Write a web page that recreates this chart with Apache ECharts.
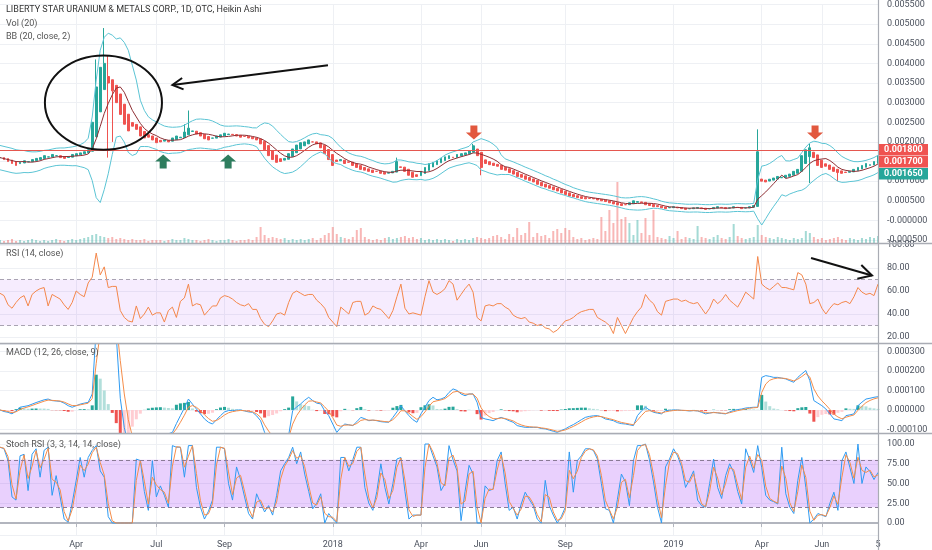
<!DOCTYPE html>
<html><head><meta charset="utf-8">
<script src="https://cdn.jsdelivr.net/npm/echarts@6/dist/echarts.min.js"></script>
<style>html,body{margin:0;padding:0;background:#fff}#c{width:932px;height:550px}</style>
</head><body><div id="c"></div>
<script>
// Heikin Ashi close, units of 0.00001 (one point per ~3 trading days)
const closeE5 = [
160,155,150,145,140,148,152,150,155,158,
160,165,162,168,165,160,158,162,168,170,
172,175,180,
250,340,390,400,350,330,300,270,245,228,240,232,215,210,
212,205,198,200,205,200,210,215,212,
225,235,228,
220,215,208,205,210,215,218,222,220,218,215,212,214,210,208,205,
195,180,165,155,148,150,158,
170,182,192,
198,200,205,200,195,
185,170,155,140,
150,155,145,148,140,135,
130,128,125,122,125,120,118,122,125,
150,
135,125,115,110,112,
125,135,145,148,152,
158,162,165,160,168,170,172,178,
190,
165,135,
145,142,140,138,
130,128,122,118,112,110,105,102,
98,92,88,85,82,78,75,
70,66,62,60,58,56,55,56,
55,52,50,48,45,42,40,38,40,45,50,48,
45,40,38,35,35,
32,30,33,35,32,30,28,30,32,33,30,28,30,33,35,32,30,32,35,33,30,32,35,38,
175,
100,98,105,108,112,110,115,118,
125,130,
165,
180,185,
160,
140,135,138,130,
125,122,120,122,125,
130,135,140,145,142,
150,165];
// notable wick extremes (index : price in 0.00001)
const highE5 = {24:410,26:490,27:420,46:245,47:280,99:160,118:195,189:232,202:195};
const lowE5 = {27:160,28:200,120:115,202:95,209:100};
// Bollinger half-width (2 sigma), units of 0.00001
const bbHalfE5 = [
31,31,31,31,30,29,28,27,26,25, 24,23,22,22,22,22,22,23,24,25, 28,32,40,81,150,194,194,179,152,125,
125,127,130,115,94,59,46,38,36,35, 35,34,34,33,33,33,33,34,36,37, 37,37,37,36,34,30,27,26,25,24,
23,22,22,22,24,35,45,50,52,50, 48,45,40,38,36,34,32,30,28,26, 22,24,28,30,26,22,21,20,20,20,
20,20,20,20,19,19,20,22,25,28, 26,24,22,22,21,20,20,20,20,20, 20,20,19,19,19,20,20,21,28,32,
40,40,40,38,35,25,20,18,18,18, 18,18,18,18,18,18,17,17,16,16, 15,14,14,13,13,13,13,13,13,13,
13,13,13,13,13,13,14,15,16,17, 17,16,14,12,11,10,10,10,10,10, 10,10,10,10,10,10,10,10,10,10,
10,10,10,10,10,10,10,10,10,50, 75,68,62,58,55,50,45,42,42,42, 48,52,52,50,45,40,38,38,38,36,
33,30,27,25,24,23,22,22,22,22];
// volume (relative units)
const volume = [
3,2,3,4,2,3,2,3,4,3, 2,3,2,3,4,3,2,3,4,3, 4,5,6,8,9,7,6,5,6,4, 5,4,3,4,3,3,4,2,3,3,
3,2,3,4,3,3,5,4,3,3, 2,3,4,3,2,3,3,4,3,2, 3,3,4,3,6,16,8,5,6,5, 4,5,3,4,3,4,3,4,5,3,
5,8,10,16,9,6,5,4,6,13, 15,6,4,3,4,3,5,6,4,5, 6,7,5,6,4,5,3,4,3,4, 3,4,3,2,4,3,4,3,5,6,
5,4,5,7,8,6,4,9,6,15, 8,10,21,6,10,7,8,5,12,14, 10,15,13,6,4,5,3,4,5,4, 26,12,33,20,61,24,26,20,8,23,
10,25,8,33,6,5,4,7,5,12, 4,6,5,4,17,6,5,4,6,8, 5,4,6,19,7,5,4,5,6,18, 8,6,5,4,6,5,4,3,5,4,
5,12,10,6,4,5,3,4,5,6, 4,3,5,4,3,5,4,6,5,7];
const rsi = [
58,56,48,45,50,54,56,47,57,60, 62,63,47,57,55,53,48,44,50,60, 57,55,67,72,93,74,81,63,64,64,
43,37,34,33,47,36,40,46,39,41, 41,33,43,46,37,51,54,66,47,49, 48,39,43,47,47,54,56,55,53,50,
48,47,49,44,44,36,31,29,34,40, 41,39,50,58,60,58,56,57,57,52, 49,45,37,33,29,46,43,40,50,51,
51,39,41,47,45,44,40,36,43,55, 66,45,40,41,40,39,55,69,59,57, 59,62,69,66,52,57,62,66,59,37,
34,47,48,47,49,49,46,44,39,37, 36,37,33,32,30,31,28,27,24,26, 30,34,35,37,40,42,43,44,44,37,
35,33,30,23,37,30,23,30,37,42, 46,57,52,49,42,39,51,52,53,53, 51,52,50,49,50,45,40,45,53,49,
52,57,52,49,46,52,59,56,53,90, 66,63,61,64,67,63,63,62,61,76, 74,66,49,50,53,45,40,45,49,48,
50,51,49,55,63,59,57,58,56,66];
// MACD line, units of 0.000001
const macdE6 = [
0,-8,-12,-20,-5,14,18,22,30,38, 45,52,56,48,46,44,35,22,14,22, 30,35,39,82,420,560,600,560,500,380,
60,-90,-180,-220,-230,-220,-200,-185,-170,-155, -140,-130,-122,-115,-70,-29,10,56,30,5,
-20,-46,-63,-72,-50,-29,-10,-3,-3,-1, 0,-5,-10,-12,-30,-55,-115,-140,-160,-170,
-165,-150,-130,-3,15,31,50,65,48,35, 31,-5,-29,-72,-115,-90,-72,-76,-80,-60,
-38,-45,-55,-52,-55,-60,-62,-63,-38,-10, 22,-5,-29,-50,-63,-20,14,48,65,52,
56,65,90,108,100,82,73,82,82,39, -38,-46,-50,-55,-45,-38,-46,-55,-63,-80,
-85,-89,-89,-89,-89,-95,-97,-103,-109,-115, -105,-97,-85,-75,-63,-50,-38,-33,-30,-29,
-35,-46,-50,-55,-65,-70,-72,-76,-80,-29, -5,14,0,-12,-16,-20,-3,-2,0,0,
-2,-3,-5,-3,-5,-12,-20,-16,-12,-15, -18,-20,-10,-3,2,5,10,12,14,14,
167,176,172,167,167,163,159,150,142,167, 185,202,150,48,35,22,5,-20,-46,-50,
-55,-29,-25,-20,22,40,56,60,65,68];
const stochK = [
96,94,79,33,29,85,87,41,87,94, 58,92,96,35,60,33,5,1,25,54, 83,58,83,92,98,66,58,8,0,0,
0,0,0,0,81,79,40,16,79,33, 47,35,20,98,96,96,58,98,98,45, 20,5,15,29,96,96,94,50,29,71,
55,33,12,5,37,25,14,22,10,35, 66,75,83,96,75,90,62,40,18,25, 37,0,12,5,0,83,83,66,80,96,
96,45,25,16,40,75,45,24,50,81, 83,40,5,10,10,10,100,100,85,71, 41,50,98,80,66,3,40,73,62,0,
0,47,41,43,79,90,50,16,20,5, 24,39,30,22,5,0,54,22,10,0, 8,20,90,39,79,85,94,94,92,81,
50,18,16,0,30,62,52,22,79,98, 98,100,80,52,20,0,71,81,94,85, 71,45,55,66,29,22,20,50,81,45,
31,60,75,64,40,24,94,80,64,98, 70,35,29,27,24,96,37,20,12,54, 83,45,0,5,12,10,8,25,39,16,
79,90,70,50,100,50,71,65,55,64];
const tickIdx = [19,39,56,83,105,120,141,168,190,205,219];
const tickText = ['Apr','Jul','Sep','2018','Apr','Jun','Sep','2019','Apr','Jun','5'];
const lineLevel = 0.0018;
const tagValues = ['0.001800','0.001700','0.001650'];
const tagColors = ['#ef5350','#ef5350','#26a69a'];

const N = closeE5.length;
const cats = closeE5.map((_, i) => String(i));
const tickSet = new Set(tickIdx);
const UP = '#26a69a', DN = '#ef5350';
const FONT = 'Roboto';

// Heikin Ashi candles
const C = closeE5.map(v => v / 1e5);
const O = [];
for (let i = 0; i < N; i++) O[i] = i ? (O[i-1] + C[i-1]) / 2 : C[0];
const candles = C.map((c, i) => {
  const o = O[i];
  const hi = Math.max(o, c, highE5[i] != null ? highE5[i] / 1e5 : -1);
  const lo = Math.min(o, c, lowE5[i] != null ? lowE5[i] / 1e5 : 9);
  return [o, c, lo, hi];
});
// Bollinger basis = moving average of closes (20 days ~ 7 points), bands = basis +/- read half-width
const W = 7, bbMid = [], bbUp = [], bbDn = [];
for (let i = 0; i < N; i++) {
  const s = C.slice(Math.max(0, i - W + 1), i + 1);
  const m = s.reduce((a, b) => a + b, 0) / s.length;
  bbMid.push(m); bbUp.push(m + bbHalfE5[i] / 1e5); bbDn.push(m - bbHalfE5[i] / 1e5);
}
const volData = volume.map((v, i) => ({value: v, itemStyle: {color: C[i] >= O[i] ? 'rgba(38,166,154,0.42)' : 'rgba(239,83,80,0.42)'}}));
// MACD
const macd = macdE6.map(v => v / 1e6);
const sig = [];
for (let i = 0; i < N; i++) sig[i] = i ? sig[i-1] + 0.5 * (macd[i] - sig[i-1]) : macd[0];
const histData = macd.map((m, i) => {
  const h = m - sig[i], p = i ? macd[i-1] - sig[i-1] : 0;
  const col = h >= 0 ? (h >= p ? '#26a69a' : '#b2dfdb') : (h <= p ? '#ef5350' : '#ffcdd2');
  return {value: h, itemStyle: {color: col}};
});
const stochD = stochK.map((k, i) => i ? (2 * k + stochK[i-1]) / 3 : k);

function xa(gi, bottom) {
  return {type: 'category', gridIndex: gi, data: cats, boundaryGap: false,
    axisLine: {show: bottom, lineStyle: {color: '#b2b5be', width: 2}},
    axisTick: {show: bottom, interval: i => tickSet.has(i), length: 4, lineStyle: {color: '#b2b5be'}},
    axisLabel: {show: bottom, interval: i => tickSet.has(i), formatter: (v, i) => tickText[tickIdx.indexOf(i)] || '',
      color: '#4c525e', fontSize: 9, fontFamily: FONT, margin: 5},
    splitLine: {show: gi !== 1, interval: i => tickSet.has(i), lineStyle: {color: '#eef0f4'}}};
}
function ya(gi, min, max, step, fmt, showMax) {
  return {type: 'value', gridIndex: gi, position: 'right', min, max, minInterval: step, maxInterval: step,
    splitNumber: Math.round((max - min) / step),
    axisLine: {show: false}, axisTick: {show: false},
    axisLabel: {color: '#4c525e', fontSize: 9, fontFamily: FONT, margin: 9, formatter: fmt, showMinLabel: false, showMaxLabel: !!showMax},
    splitLine: {show: true, lineStyle: {color: '#eef0f4'}}};
}
const f6 = v => Math.abs(v) < 1e-12 ? '-0.000000' : v.toFixed(6);
const f6m = v => Math.abs(v) < 1e-12 ? '0.000000' : v.toFixed(6);
const f2 = v => v.toFixed(2);

const lineS = (name, xi, data, color, extra) => Object.assign({type: 'line', name, xAxisIndex: xi, yAxisIndex: xi, data,
  symbol: 'none', lineStyle: {color, width: 1}, silent: true, z: 4}, extra || {});

const chart = echarts.init(document.getElementById('c'));
chart.setOption({
  animation: false,
  grid: [
    {left: 0, right: 54, top: 0, height: 243},
    {left: 0, right: 54, top: 143, height: 100},
    {left: 0, right: 54, top: 244, height: 99},
    {left: 0, right: 54, top: 344, height: 89},
    {left: 0, right: 54, top: 434, height: 101}
  ],
  xAxis: [xa(0, false), xa(1, false), xa(2, false), xa(3, false), xa(4, true)],
  yAxis: [
    ya(0, -0.000575, 0.0055, 0.0005, f6, true),
    {type: 'value', gridIndex: 1, min: 0, max: 100, show: false, splitLine: {show: false}},
    ya(2, 14.78, 100.87, 20, f2),
    ya(3, -0.000118, 0.000338, 0.0001, f6m),
    ya(4, -15.2, 112.7, 25, f2)
  ],
  series: [
    {type: 'bar', name: 'vol', xAxisIndex: 1, yAxisIndex: 1, data: volData, barWidth: '50%', silent: true, z: 1},
    {type: 'candlestick', name: 'price', xAxisIndex: 0, yAxisIndex: 0, data: candles, barWidth: '60%', z: 3,
      itemStyle: {color: UP, color0: DN, borderColor: UP, borderColor0: DN, borderWidth: 1}},
    lineS('bbUp', 0, bbUp, '#5bc4d4'),
    lineS('bbDn', 0, bbDn, '#5bc4d4'),
    lineS('bbMid', 0, bbMid, '#8e2f34', {
      markLine: {silent: true, precision: 6, symbol: ['none', 'none'], label: {show: false},
        lineStyle: {color: '#e5574f', width: 1, type: 'solid'}, data: [{yAxis: lineLevel}]}}),
    lineS('rsi', 2, rsi, '#f4874b', {
      markArea: {silent: true, itemStyle: {color: 'rgba(156,39,246,0.09)'}, data: [[{yAxis: 30}, {yAxis: 70}]]},
      markLine: {silent: true, symbol: ['none', 'none'], label: {show: false},
        lineStyle: {color: '#a9a3b2', width: 1, type: [4, 3]}, data: [{yAxis: 70}, {yAxis: 30}]}}),
    {type: 'bar', name: 'hist', xAxisIndex: 3, yAxisIndex: 3, data: histData, barWidth: '75%', silent: true, z: 2},
    lineS('macd', 3, macd, '#2f9bf2'),
    lineS('signal', 3, sig, '#f58d4a'),
    lineS('k', 4, stochK, '#2f9bf2', {
      markArea: {silent: true, itemStyle: {color: 'rgba(156,39,246,0.22)'}, data: [[{yAxis: 20}, {yAxis: 80}]]},
      markLine: {silent: true, symbol: ['none', 'none'], label: {show: false},
        lineStyle: {color: '#8a7b96', width: 1, type: [4, 3]}, data: [{yAxis: 80}, {yAxis: 20}]}}),
    lineS('d', 4, stochD, '#f58d4a')
  ]
});

// ---- overlay drawings, anchored in data space ----
const x0 = chart.convertToPixel({xAxisIndex: 0}, '0');
const x1 = chart.convertToPixel({xAxisIndex: 0}, String(N - 1));
const px = idx => x0 + (x1 - x0) * idx / (N - 1);
const py = (axis, v) => chart.convertToPixel({yAxisIndex: axis}, v);
const right = x1;

function arrowLine(ax, ay, bx, by, head, w) {
  const ang = Math.atan2(by - ay, bx - ax), a1 = ang + Math.PI - 0.5, a2 = ang + Math.PI + 0.5;
  return [
    {type: 'line', shape: {x1: ax, y1: ay, x2: bx, y2: by}, style: {stroke: '#111', lineWidth: w}, z: 50},
    {type: 'polyline', shape: {points: [[bx + head * Math.cos(a1), by + head * Math.sin(a1)], [bx, by], [bx + head * Math.cos(a2), by + head * Math.sin(a2)]]},
      style: {stroke: '#111', lineWidth: w, fill: null}, z: 50}
  ];
}
function blockArrow(cx, cy, up, color) {
  const s = up ? 1 : -1;
  const pts = [[0, -7], [8, 0], [3.5, 0], [3.5, 7], [-3.5, 7], [-3.5, 0], [-8, 0]].map(p => [cx + p[0], cy + s * p[1]]);
  return {type: 'polygon', shape: {points: pts}, style: {fill: color}, z: 50};
}
const g = [];
const titles = [
  ['LIBERTY STAR URANIUM & METALS CORP., 1D, OTC, Heikin Ashi', 10, '#333'],
  ['Vol (20)', 23.5, '#555'], ['BB (20, close, 2)', 37, '#555'],
  ['RSI (14, close)', 254, '#555'], ['MACD (12, 26, close, 9)', 353, '#555'],
  ['Stoch RSI (3, 3, 14, 14, close)', 445, '#555']
];
titles.forEach(t => g.push({type: 'text', z: 60, style: {text: t[0], x: 6, y: t[1], verticalAlign: 'middle', fill: t[2], fontSize: 9, fontFamily: FONT}}));
[243.5, 343.5, 433.5].forEach(y => g.push({type: 'line', z: 40, shape: {x1: 0, y1: y, x2: 932, y2: y}, style: {stroke: '#a9acb4', lineWidth: 1.5}}));
g.push({type: 'line', z: 40, shape: {x1: right + 0.5, y1: 0, x2: right + 0.5, y2: 550}, style: {stroke: '#a9acb4', lineWidth: 1.2}});
const ty0 = py(0, lineLevel);
tagValues.forEach((t, k) => {
  const cy = ty0 + k * 12;
  g.push({type: 'rect', z: 55, shape: {x: right + 1, y: cy - 5.75, width: 49, height: 11.5}, style: {fill: tagColors[k]}});
  g.push({type: 'text', z: 56, style: {text: t, x: right + 6, y: cy, verticalAlign: 'middle', fill: '#fff', fontSize: 9, fontWeight: 'bold', fontFamily: FONT}});
});
const eL = px(11.2), eR = px(40.4), eT = py(0, 0.0042), eB = py(0, 0.0018);
g.push({type: 'ellipse', z: 50, shape: {cx: (eL + eR) / 2, cy: (eT + eB) / 2, rx: (eR - eL) / 2, ry: (eB - eT) / 2}, style: {stroke: '#111', lineWidth: 2, fill: null}});
g.push(...arrowLine(px(81.8), py(0, 0.00395), px(43), py(0, 0.00345), 12, 2));
g.push(blockArrow(px(40.7), py(0, 0.0015), true, '#2e7d5e'));
g.push(blockArrow(px(56.9), py(0, 0.0015), true, '#2e7d5e'));
g.push(blockArrow(px(118.2), py(0, 0.00224), false, '#e2583e'));
g.push(blockArrow(px(203.3), py(0, 0.00224), false, '#e2583e'));
g.push(...arrowLine(px(202.3), py(2, 88.7), px(217.5), py(2, 73.5), 15, 2));
chart.setOption({graphic: g});
</script></body></html>
